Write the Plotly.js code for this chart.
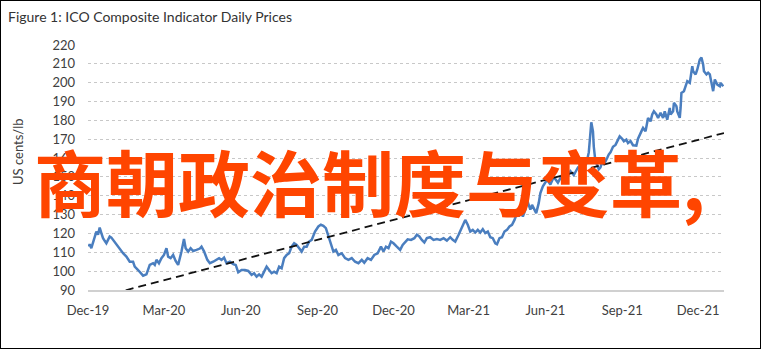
<!DOCTYPE html>
<html>
<head>
<meta charset="utf-8">
<script src="https://cdn.plot.ly/plotly-3.0.1.min.js"></script>
<style>
html,body{margin:0;padding:0;background:#fff;}
#wrap{position:relative;width:761px;height:349px;}
#chart{width:761px;height:349px;}
#frame{position:absolute;left:0;top:0;width:761px;height:349px;box-sizing:border-box;border:1px solid #000;pointer-events:none;}
</style>
</head>
<body>
<div id="wrap"><div id="chart"></div><div id="frame"></div></div>
<script>
const titleText = "Figure 1: ICO Composite Indicator Daily Prices";
const yTitle = "US cents/lb";
const overlayText = "商朝政治制度与变革,";

const tickDates = ["2019-12-01","2020-03-01","2020-06-01","2020-09-01","2020-12-01","2021-03-01","2021-06-01","2021-09-01","2021-12-01"];
const tickLabels = ["Dec-19","Mar-20","Jun-20","Sep-20","Dec-20","Mar-21","Jun-21","Sep-21","Dec-21"];

const priceDates = [
"2019-12-02","2019-12-03","2019-12-05","2019-12-09","2019-12-11","2019-12-13","2019-12-15","2019-12-17","2019-12-19","2019-12-21",
"2019-12-23","2019-12-25","2019-12-27","2019-12-29","2019-12-31","2020-01-04","2020-01-08","2020-01-12","2020-01-16","2020-01-20",
"2020-01-24","2020-01-26","2020-01-30","2020-02-03","2020-02-05","2020-02-09","2020-02-13","2020-02-17","2020-02-19","2020-02-21",
"2020-02-24","2020-02-27","2020-03-01","2020-03-04","2020-03-06","2020-03-09","2020-03-12","2020-03-15","2020-03-18","2020-03-22",
"2020-03-25","2020-03-27","2020-03-30","2020-04-02","2020-04-05","2020-04-09","2020-04-13","2020-04-15","2020-04-18","2020-04-22",
"2020-04-25","2020-04-29","2020-05-03","2020-05-06","2020-05-09","2020-05-12","2020-05-15","2020-05-19","2020-05-23","2020-05-26",
"2020-05-29","2020-06-02","2020-06-06","2020-06-10","2020-06-14","2020-06-17","2020-06-20","2020-06-23","2020-06-26","2020-06-29",
"2020-07-02","2020-07-05","2020-07-08","2020-07-11","2020-07-14","2020-07-17","2020-07-20","2020-07-23","2020-07-26","2020-07-29",
"2020-08-01","2020-08-04","2020-08-07","2020-08-10","2020-08-13","2020-08-16","2020-08-19","2020-08-22","2020-08-25","2020-08-29",
"2020-09-02","2020-09-05","2020-09-08","2020-09-11","2020-09-13","2020-09-15","2020-09-17","2020-09-20","2020-09-23","2020-09-26",
"2020-09-30","2020-10-04","2020-10-08","2020-10-12","2020-10-16","2020-10-20","2020-10-24","2020-10-27","2020-10-31","2020-11-04",
"2020-11-08","2020-11-12","2020-11-16","2020-11-19","2020-11-22","2020-11-25","2020-11-28","2020-12-01","2020-12-05","2020-12-09",
"2020-12-12","2020-12-15","2020-12-18","2020-12-22","2020-12-26","2020-12-29","2021-01-01","2021-01-04","2021-01-07","2021-01-10",
"2021-01-14","2021-01-18","2021-01-22","2021-01-26","2021-01-30","2021-02-03","2021-02-07","2021-02-10","2021-02-13","2021-02-17",
"2021-02-21","2021-02-25","2021-02-28","2021-03-03","2021-03-06","2021-03-09","2021-03-12","2021-03-15","2021-03-18","2021-03-21",
"2021-03-24","2021-03-27","2021-03-30","2021-04-02","2021-04-04","2021-04-07","2021-04-10","2021-04-13","2021-04-16","2021-04-19",
"2021-04-22","2021-04-25","2021-04-28","2021-04-30","2021-05-03","2021-05-05","2021-05-08","2021-05-10","2021-05-12","2021-05-14",
"2021-05-16","2021-05-18","2021-05-21","2021-05-24","2021-05-26","2021-05-29","2021-06-01","2021-06-03","2021-06-07","2021-06-11",
"2021-06-16","2021-06-21","2021-06-26","2021-07-01","2021-07-05","2021-07-10","2021-07-15","2021-07-20","2021-07-23","2021-07-25",
"2021-07-26","2021-07-28","2021-07-29","2021-07-31","2021-08-02","2021-08-04","2021-08-06","2021-08-08","2021-08-10","2021-08-14",
"2021-08-16","2021-08-18","2021-08-21","2021-08-24","2021-08-26","2021-08-29","2021-09-01","2021-09-03","2021-09-06","2021-09-08",
"2021-09-11","2021-09-14","2021-09-18","2021-09-20","2021-09-25","2021-09-26","2021-09-29","2021-10-01","2021-10-02","2021-10-05",
"2021-10-07","2021-10-09","2021-10-12","2021-10-14","2021-10-17","2021-10-20","2021-10-22","2021-10-25","2021-10-28","2021-10-29",
"2021-11-01","2021-11-02","2021-11-05","2021-11-06","2021-11-09","2021-11-10","2021-11-11","2021-11-14","2021-11-17","2021-11-18",
"2021-11-21","2021-11-22","2021-11-24","2021-11-25","2021-11-28","2021-11-30","2021-12-02","2021-12-03","2021-12-05","2021-12-07",
"2021-12-08","2021-12-11","2021-12-13","2021-12-15","2021-12-17","2021-12-19","2021-12-21","2021-12-24","2021-12-27","2021-12-28",
"2021-12-31"
];
const priceValues = [
113.0,114.3,112.2,118.4,121.0,119.3,123.1,120.2,117.5,116.1,
114.8,116.6,118.4,117.8,116.6,113.9,111.3,109.5,107.7,105.0,
105.0,102.4,100.6,98.3,97.6,98.3,103.3,104.2,103.3,106.0,
104.2,106.9,108.6,112.2,107.7,106.9,108.6,105.4,103.3,110.4,
117.1,112.2,110.4,112.2,110.7,111.3,112.0,113.0,110.5,106.0,
104.2,105.0,106.0,106.9,106.0,107.2,104.2,105.0,103.7,103.3,
99.4,100.6,100.6,100.1,98.0,98.9,97.1,98.3,97.1,99.7,
102.4,100.6,98.9,99.7,98.9,102.4,101.5,106.9,108.6,109.5,
113.0,114.8,113.9,112.2,110.4,113.0,113.0,115.7,116.6,121.0,
123.7,124.6,124.0,122.8,120.2,117.5,113.9,110.4,111.3,108.6,
109.5,106.9,106.0,106.9,105.0,104.2,106.0,104.5,106.9,106.0,
108.6,109.5,113.0,110.4,113.0,112.2,115.7,114.8,113.0,111.3,
113.9,115.7,116.9,116.6,117.5,119.3,118.4,116.6,115.2,117.5,
118.0,116.6,117.0,116.6,117.5,116.2,118.0,116.6,115.7,119.3,
123.7,127.2,124.6,121.0,121.9,120.5,121.9,120.5,122.3,120.2,
121.0,118.0,117.5,114.8,114.3,117.5,118.0,121.0,121.9,123.7,
124.6,127.2,130.8,129.0,131.6,129.0,132.6,137.9,135.2,132.6,
135.2,133.5,130.8,136.1,141.4,145.0,146.8,148.5,146.0,150.0,
147.0,151.0,149.0,153.0,151.0,155.0,154.0,157.0,163.0,173.3,
179.0,174.2,166.0,158.0,156.5,154.0,155.0,158.0,156.5,160.0,
162.0,163.0,166.0,167.0,169.0,171.5,170.2,168.9,169.8,168.0,
169.0,166.8,166.6,170.3,175.1,176.0,174.2,180.4,181.3,179.5,
183.1,184.8,183.1,181.3,184.0,181.3,184.8,180.4,186.6,183.1,
184.8,189.3,187.5,184.8,181.3,186.6,194.6,195.5,199.0,200.8,
199.9,203.5,208.8,206.1,204.4,207.0,209.7,212.3,213.3,209.7,
206.1,204.4,205.3,204.4,199.9,195.5,201.7,199.0,198.1,199.9,
198.1
];

const trendDates = ["2019-12-01","2022-01-01"];
const trendValues = [84.6, 173.3];

const W = 761, H = 349;
const mL = 88, mR = 37, mT = 45, mB = 59;
const pw = W - mL - mR, ph = H - mT - mB;

const traces = [
  {x: priceDates, y: priceValues, type: "scatter", mode: "lines",
   line: {color: "#4A7EBF", width: 2.5}, hoverinfo: "skip"},
  {x: trendDates, y: trendValues, type: "scatter", mode: "lines",
   line: {color: "#111111", width: 1.8, dash: "8px,5px"}, hoverinfo: "skip"}
];

const tickFont = {family: "Lato, 'DejaVu Sans', sans-serif", size: 13, color: "#404040"};

const layout = {
  width: W, height: H,
  margin: {l: mL, r: mR, t: mT, b: mB, pad: 0},
  paper_bgcolor: "#ffffff", plot_bgcolor: "#ffffff",
  showlegend: false,
  title: {text: titleText, x: 8 / W, xref: "container", xanchor: "left",
          y: 1 - 17 / H, yref: "container", yanchor: "middle",
          font: {family: "Lato, 'DejaVu Sans', sans-serif", size: 14, color: "#333333"}},
  xaxis: {type: "date", range: ["2019-12-01", "2022-01-01"],
          tickmode: "array", tickvals: tickDates, ticktext: tickLabels,
          ticks: "", showgrid: false, zeroline: false,
          showline: true, linecolor: "#D0D0D0", linewidth: 1.5,
          tickfont: tickFont, ticklabelstandoff: 8, fixedrange: true},
  yaxis: {range: [90, 220], dtick: 10, tick0: 90, ticks: "",
          showgrid: true, gridcolor: "#C8C8C8", griddash: "dot", gridwidth: 1,
          zeroline: false, showline: false,
          tickfont: tickFont, ticklabelstandoff: 12, fixedrange: true},
  annotations: [
    {text: yTitle, xref: "paper", yref: "paper", x: (18 - mL) / pw, y: (H - mB - 152) / ph,
     xanchor: "center", yanchor: "middle", textangle: -90, showarrow: false,
     font: {family: "Lato, 'DejaVu Sans', sans-serif", size: 13, color: "#404040"}},
    {text: overlayText, xref: "paper", yref: "paper", x: (32 - mL) / pw, y: (H - mB - 179) / ph,
     xanchor: "left", yanchor: "middle", showarrow: false,
     font: {family: "'Noto Sans CJK SC', sans-serif", size: 72, color: "#FF4500", weight: 700}}
  ]
};

Plotly.newPlot("chart", traces, layout, {staticPlot: true, displayModeBar: false});
</script>
</body>
</html>
